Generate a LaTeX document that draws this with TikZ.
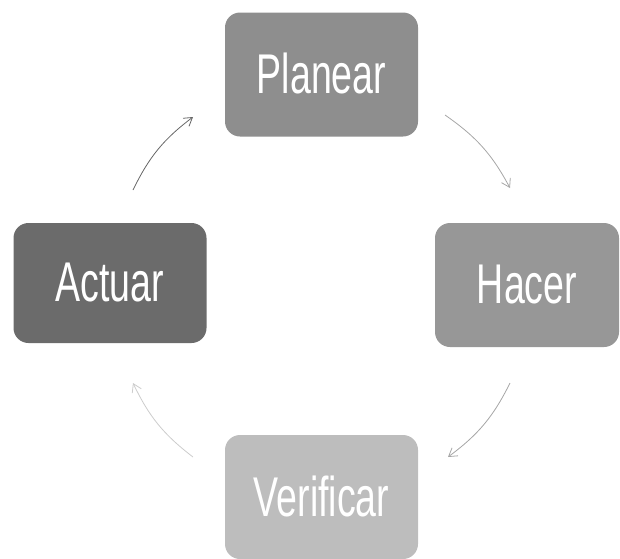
\documentclass[tikz,border=0pt]{standalone}
\usepackage{fontspec}
\newfontfamily\condfont[FakeStretch=0.67]{Liberation Sans}
\usetikzlibrary{arrows.meta}
\definecolor{cPlan}{HTML}{8E8E8E}
\definecolor{cAct}{HTML}{6B6B6B}
\definecolor{cHac}{HTML}{979797}
\definecolor{cVer}{HTML}{BDBDBD}
\tikzset{
  stagebox/.style={rectangle, rounded corners=15pt, minimum width=193pt, minimum height=124pt,
    inner sep=0pt, text=white, font=\condfont\fontsize{56}{60}\selectfont},
  cyclearrow/.style={line width=0.8pt, -{Straight Barb[length=8pt,width=10pt]}},
}
\begin{document}
\begin{tikzpicture}[x=1pt,y=-1pt]
\useasboundingbox (0,0) rectangle (620,558);
\node[stagebox, fill=cPlan] (plan) at (321.5,74.5) {\raisebox{3pt}{Planear}};
\node[stagebox, fill=cAct, minimum height=120pt] (act) at (110,283) {\raisebox{2pt}{Actuar}};
\node[stagebox, fill=cHac, minimum width=184pt] (hac) at (527,285) {\raisebox{2pt}{Hacer}};
\node[stagebox, fill=cVer] (ver) at (321.5,497) {\raisebox{2pt}{Verificar}};
% arc endpoints on a circle centred (320,286), radius 212
\coordinate (a1s) at (445,115);
\coordinate (a1e) at (510,188);
\coordinate (a2s) at (510,383);
\coordinate (a2e) at (448,457);
\coordinate (a3s) at (193,457);
\coordinate (a3e) at (133,383);
\coordinate (a4s) at (133,190);
\coordinate (a4e) at (193,117);
\draw[cyclearrow, color=black!35] (a1s) to[bend left=13.5] (a1e);
\draw[cyclearrow, color=black!35] (a2s) to[bend left=13.5] (a2e);
\draw[cyclearrow, color=black!20] (a3s) to[bend left=13.5] (a3e);
\draw[cyclearrow, color=black!60] (a4s) to[bend left=13.5] (a4e);
\end{tikzpicture}
\end{document}
